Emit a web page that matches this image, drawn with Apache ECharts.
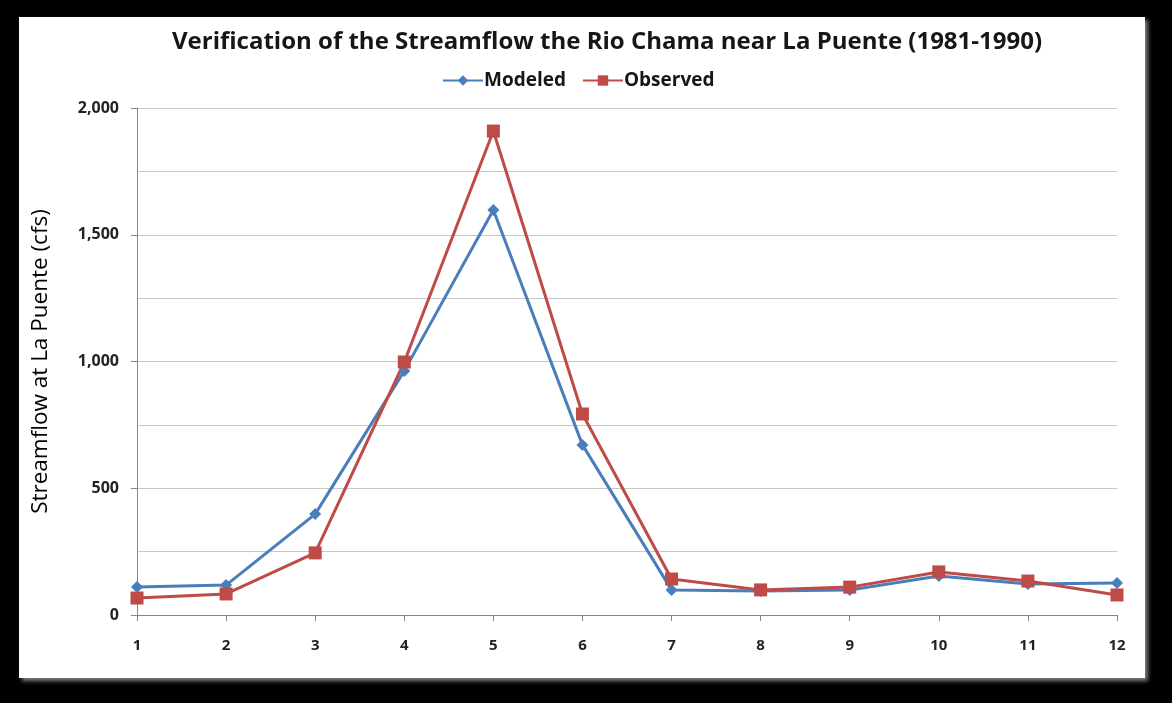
<!DOCTYPE html>
<html><head><meta charset="utf-8">
<script src="https://cdn.jsdelivr.net/npm/echarts@6/dist/echarts.min.js"></script>
<style>html,body{margin:0;padding:0;background:#000;}#c{width:1172px;height:703px;}</style>
</head><body><div id="c"></div>
<script>
const months = ['1','2','3','4','5','6','7','8','9','10','11','12'];
const modeled = [110, 118, 398, 963, 1598, 671, 99, 95, 99, 154, 122, 126];
const observed = [67, 83, 245, 998, 1909, 793, 142, 99, 110, 170, 134, 79];
const titleText = 'Verification of the Streamflow the Rio Chama near La Puente (1981-1990)';
const yName = 'Streamflow at La Puente (cfs)';

const chart = echarts.init(document.getElementById('c'));
const font = 'Open Sans, Liberation Sans, sans-serif';
chart.setOption({
  backgroundColor: '#000',
  animation: false,
  graphic: [{
    type: 'rect', z: -10, silent: true,
    shape: {x: 19, y: 17, width: 1126, height: 661},
    style: {fill: '#fff', shadowBlur: 4, shadowOffsetX: 3, shadowOffsetY: 3, shadowColor: 'rgba(140,140,140,0.9)'}
  }],
  title: {
    text: titleText, left: 167, top: 25,
    textStyle: {fontFamily: font, fontSize: 24, fontWeight: 'bold', color: '#161616'}
  },
  legend: {
    top: 66, left: 437, itemGap: 16, itemWidth: 40, itemHeight: 13,
    textStyle: {fontFamily: font, fontSize: 19, fontWeight: 'bold', color: '#161616', padding: [0,0,0,-4]},
    data: ['Modeled', 'Observed']
  },
  grid: {left: 137, right: 55, top: 108, bottom: 88, containLabel: false},
  xAxis: {
    type: 'category', data: months, boundaryGap: false,
    axisLine: {lineStyle: {color: '#868686', width: 1}},
    axisTick: {show: true, alignWithLabel: true, length: 6, lineStyle: {color: '#868686'}},
    axisLabel: {fontFamily: font, fontSize: 15, fontWeight: 'bold', color: '#222', margin: 23}
  },
  yAxis: {
    type: 'value', min: 0, max: 2000, interval: 500,
    name: yName, nameLocation: 'middle', nameGap: 85,
    nameTextStyle: {fontFamily: font, fontSize: 22.5, color: '#000'},
    axisLine: {show: true, lineStyle: {color: '#868686'}},
    axisTick: {show: true, length: 6, lineStyle: {color: '#868686'}},
    axisLabel: {fontFamily: font, fontSize: 16, fontWeight: 'bold', color: '#222', margin: 18,
      formatter: v => v.toLocaleString('en-US')},
    splitLine: {lineStyle: {color: '#c8c8c8', width: 1}},
    minorTick: {show: false, splitNumber: 2},
    minorSplitLine: {show: true, lineStyle: {color: '#c8c8c8', width: 1}}
  },
  series: [{
    name: 'Modeled', type: 'line', data: modeled,
    symbol: 'diamond', symbolSize: 12,
    lineStyle: {color: '#4a7ebb', width: 3},
    itemStyle: {color: '#4a7ebb'}
  }, {
    name: 'Observed', type: 'line', data: observed,
    symbol: 'rect', symbolSize: 13,
    lineStyle: {color: '#be4b48', width: 3},
    itemStyle: {color: '#be4b48'}
  }]
});
</script></body></html>
